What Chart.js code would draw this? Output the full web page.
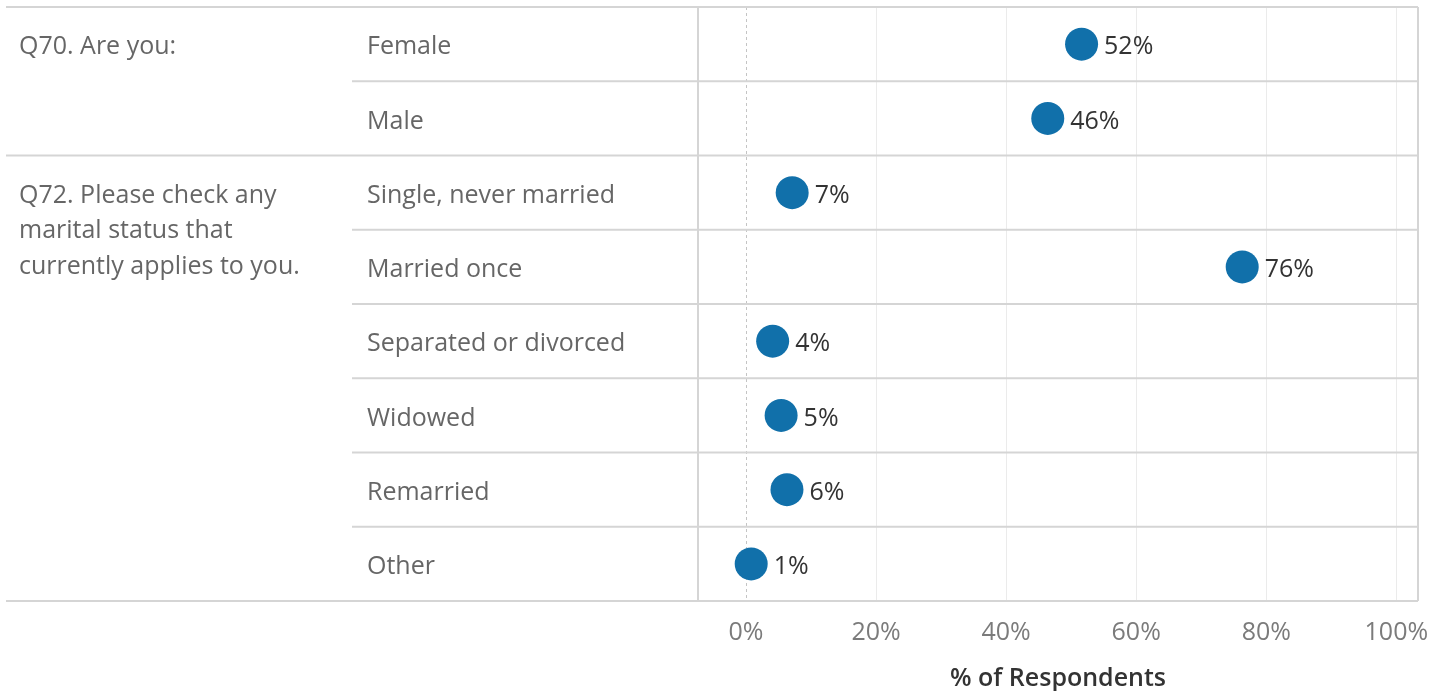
<!DOCTYPE html>
<html>
<head>
<meta charset="utf-8">
<script src="https://cdn.jsdelivr.net/npm/chart.js@4.4.1/dist/chart.umd.min.js"></script>
<style>
html, body { margin: 0; padding: 0; background: #fff; }
#wrap { width: 1434px; height: 691px; position: relative; }
</style>
</head>
<body>
<div id="wrap"><canvas id="chart"></canvas></div>
<script>
// 値は画像から読み取り
const categories = ['Female', 'Male', 'Single, never married', 'Married once',
    'Separated or divorced', 'Widowed', 'Remarried', 'Other'];
const values = [51.6, 46.4, 7.1, 76.3, 4.1, 5.4, 6.3, 0.8];
const valueLabels = ['52%', '46%', '7%', '76%', '4%', '5%', '6%', '1%'];
const questions = [
    ['Q70. Are you:'],
    ['Q72. Please check any', 'marital status that', 'currently applies to you.']
];
const questionFirstRow = [0, 2];
const xTicks = [0, 20, 40, 60, 80, 100];

const FONT = '"Open Sans", sans-serif';
const LINE = '#d5d5d5';
const TEXT_SHIFT = 3; // テキストを少し下へ

// 左側の表と行の罫線、ラベルを描くプラグイン
const tablePlugin = {
    id: 'tablePlugin',
    beforeDatasetsDraw(chart) {
        const { ctx, chartArea } = chart;
        const n = categories.length;
        const rowH = (chartArea.bottom - chartArea.top) / n;
        const x = chart.scales.x;
        const y = chart.scales.y;
        ctx.save();

        // 0% の点線
        const x0 = x.getPixelForValue(0);
        ctx.strokeStyle = '#c4c4c4';
        ctx.lineWidth = 1;
        ctx.setLineDash([3, 3]);
        ctx.beginPath();
        ctx.moveTo(x0 + 0.5, chartArea.top);
        ctx.lineTo(x0 + 0.5, chartArea.bottom);
        ctx.stroke();
        ctx.setLineDash([]);

        // 横の罫線
        ctx.strokeStyle = LINE;
        ctx.lineWidth = 2;
        for (let k = 0; k <= n; k++) {
            const yy = chartArea.top + k * rowH;
            const full = k === 0 || k === n || questionFirstRow.includes(k);
            ctx.beginPath();
            ctx.moveTo(full ? 6 : 352, yy);
            ctx.lineTo(chartArea.right, yy);
            ctx.stroke();
        }
        // 縦の罫線
        [chartArea.left, chartArea.right].forEach(xx => {
            ctx.beginPath();
            ctx.moveTo(xx, chartArea.top);
            ctx.lineTo(xx, chartArea.bottom);
            ctx.stroke();
        });

        // 質問と選択肢のテキスト
        ctx.font = '25px ' + FONT;
        ctx.fillStyle = '#666';
        ctx.textBaseline = 'middle';
        ctx.textAlign = 'left';
        questions.forEach((lines, qi) => {
            const yc = y.getPixelForValue(questionFirstRow[qi]) + TEXT_SHIFT;
            lines.forEach((t, j) => ctx.fillText(t, 19, yc + j * 35.5));
        });
        categories.forEach((c, i) => {
            ctx.fillText(c, 367, y.getPixelForValue(i) + TEXT_SHIFT);
        });
        ctx.restore();
    },
    afterDatasetsDraw(chart) {
        const { ctx } = chart;
        const meta = chart.getDatasetMeta(0);
        ctx.save();
        ctx.font = '25px ' + FONT;
        ctx.fillStyle = '#333';
        ctx.textBaseline = 'middle';
        meta.data.forEach((pt, i) => {
            ctx.fillText(valueLabels[i], pt.x + 16.5 + 6, pt.y + TEXT_SHIFT);
        });
        ctx.restore();
    }
};

const ctx = document.getElementById('chart').getContext('2d');
new Chart(ctx, {
    type: 'scatter',
    data: {
        datasets: [{
            data: values.map((v, i) => ({ x: v, y: categories[i] })),
            backgroundColor: '#1170aa',
            borderWidth: 0,
            pointRadius: 16.5,
            pointHoverRadius: 16.5,
            clip: false
        }]
    },
    options: {
        responsive: true,
        maintainAspectRatio: false,
        animation: false,
        events: [],
        layout: { autoPadding: false, padding: { left: 698, right: 16, top: 7, bottom: 0 } },
        plugins: { legend: { display: false }, tooltip: { enabled: false } },
        scales: {
            x: {
                type: 'linear',
                min: -7.38,
                max: 103.33,
                afterBuildTicks: s => { s.ticks = xTicks.map(v => ({ value: v })); },
                afterFit: s => { s.height = 90; s.paddingLeft = 0; s.paddingRight = 0; },
                grid: {
                    drawTicks: false,
                    lineWidth: 1,
                    color: c => (c.tick && c.tick.value === 0) ? 'rgba(0,0,0,0)' : '#ebebeb'
                },
                border: { display: false },
                ticks: {
                    padding: 17,
                    maxRotation: 0,
                    color: '#7b7b7b',
                    font: { family: FONT, size: 25 },
                    callback: v => v + '%'
                },
                title: {
                    display: true,
                    text: '% of Respondents',
                    color: '#333',
                    font: { family: FONT, size: 25, weight: '600' },
                    padding: { top: 0, bottom: -3 }
                }
            },
            y: {
                type: 'category',
                labels: categories,
                offset: true,
                display: false
            }
        }
    },
    plugins: [tablePlugin]
});
</script>
</body>
</html>
